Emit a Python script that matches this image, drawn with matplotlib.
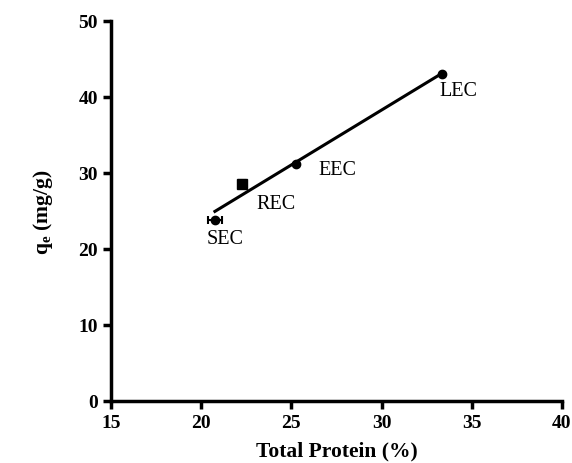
import numpy as np
import matplotlib
matplotlib.use("Agg")
import matplotlib.pyplot as plt

plt.rcParams['font.family'] = ['Liberation Serif', 'DejaVu Serif']
plt.rcParams['mathtext.fontset'] = 'custom'
plt.rcParams['mathtext.rm'] = 'Liberation Serif:bold'
plt.rcParams['mathtext.it'] = 'Liberation Serif:bold'
plt.rcParams['mathtext.bf'] = 'Liberation Serif:bold'

# data
names = ['SEC', 'REC', 'EEC', 'LEC']
protein = [20.76, 22.24, 25.25, 33.33]
qe = [23.8, 28.55, 31.2, 43.0]
x_err = [0.4, 0.0, 0.0, 0.0]
y_err = [0.0, 0.5, 0.0, 0.0]
markers = ['o', 's', 'o', 'o']
label_offsets = [(7, -13), (25, -14), (30, -4), (12, -12)]

fig = plt.figure(figsize=(5.72, 4.64), dpi=100)
ax = fig.add_axes([111 / 572, 62 / 464, 451 / 572, 380 / 464])

# linear fit line
k, b = np.polyfit(protein, qe, 1)
xs = np.array([min(protein), max(protein)])
ax.plot(xs, k * xs + b, color='black', lw=2.2, zorder=2)

for i in range(len(names)):
    ax.errorbar(protein[i], qe[i], xerr=x_err[i] or None, yerr=y_err[i] or None,
                fmt=markers[i], color='black', ms=6 if markers[i] == 'o' else 7,
                elinewidth=1.5, capsize=3, capthick=1.5, zorder=3)
    ax.annotate(names[i], (protein[i], qe[i]), xytext=label_offsets[i],
                textcoords='offset points', ha='center', va='center', fontsize=14.5)

ax.set_xlim(15, 40)
ax.set_ylim(0, 50)
ax.set_xticks([15, 20, 25, 30, 35, 40])
ax.set_yticks([0, 10, 20, 30, 40, 50])
for s in ['top', 'right']:
    ax.spines[s].set_visible(False)
for s in ['left', 'bottom']:
    ax.spines[s].set_linewidth(2.5)
ax.tick_params(width=2.5, length=6, labelsize=14)
for t in ax.get_xticklabels() + ax.get_yticklabels():
    t.set_fontweight('bold')

ax.set_xlabel('Total Protein (%)', fontsize=15.5, fontweight='bold', labelpad=7)
ax.set_ylabel(r'$\mathregular{q_e}$ (mg/g)', fontsize=15.5, fontweight='bold', labelpad=17)

plt.savefig('out.png', dpi=100)
